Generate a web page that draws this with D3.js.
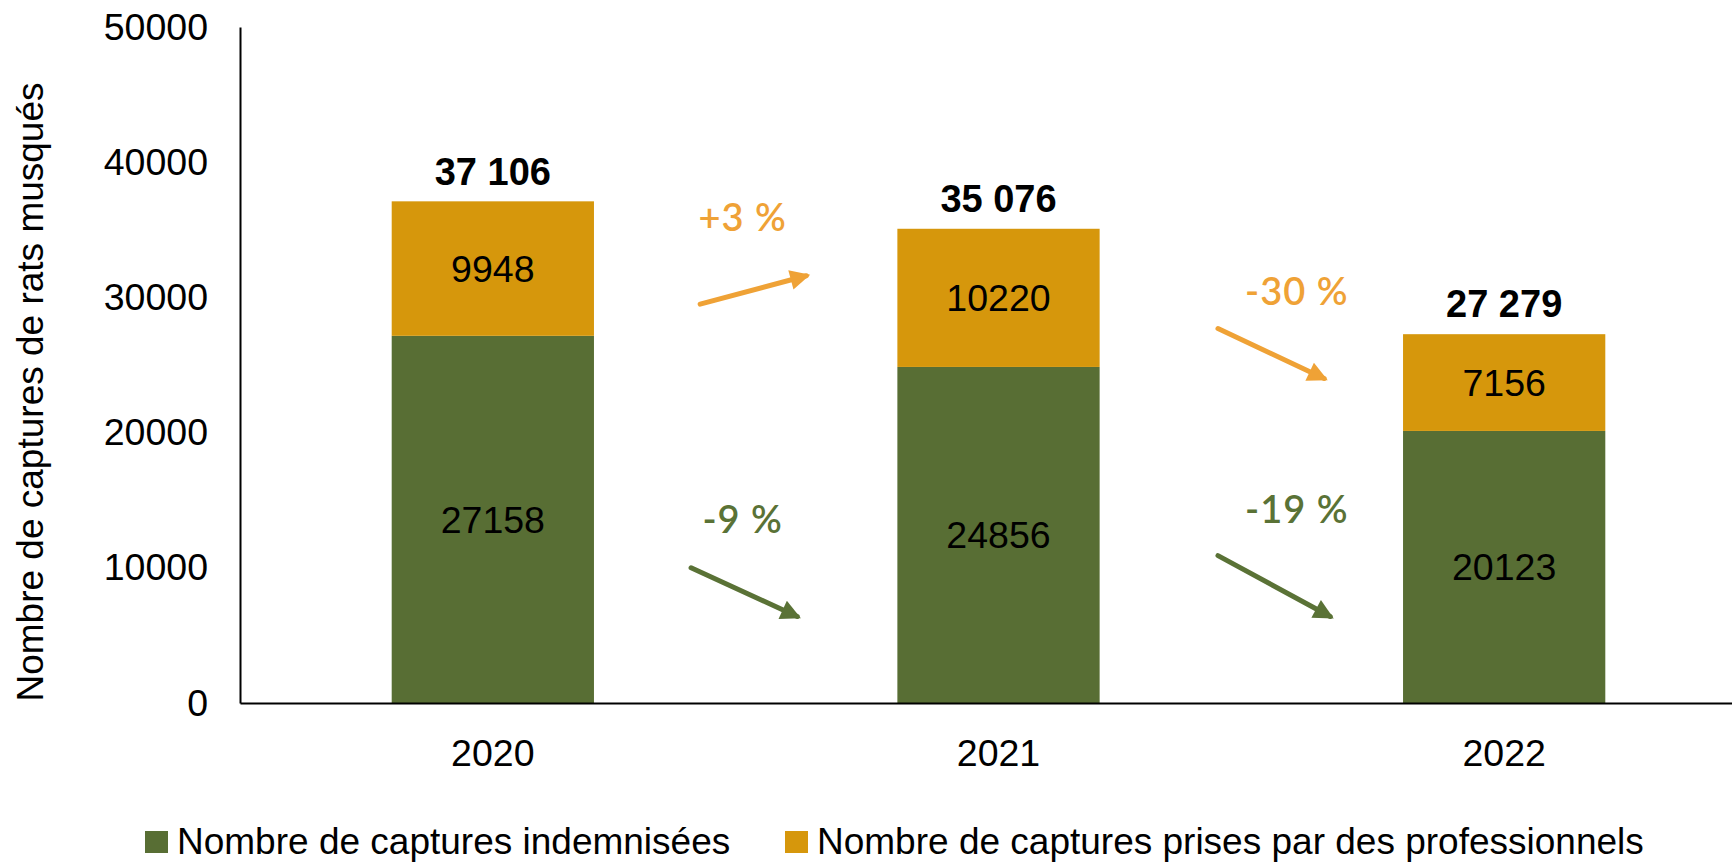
<!DOCTYPE html>
<html>
<head>
<meta charset="utf-8">
<script src="https://cdn.jsdelivr.net/npm/d3@7"></script>
<style>
  html, body { margin: 0; padding: 0; background: #fff; overflow: hidden; }
  svg { display: block; }
  text { font-family: "Liberation Sans", Arial, sans-serif; }
</style>
</head>
<body>
<svg id="chart" width="1732" height="863"></svg>
<script>
// Captures de rats musqués par année
const years = ["2020", "2021", "2022"];
const indemnisees = [27158, 24856, 20123];
const professionnels = [9948, 10220, 7156];
const totalLabels = ["37 106", "35 076", "27 279"];
const yTicks = [0, 10000, 20000, 30000, 40000, 50000];
const seriesNames = ["Nombre de captures indemnisées", "Nombre de captures prises par des professionnels"];

// Évolution entre deux années : libellé, niveau de départ / d'arrivée de la flèche et du texte (en nombre de captures)
const changeLabels = ["+3 %", "-9 %", "-30 %", "-19 %"];
const changeSeries = [1, 0, 1, 0];
const changeGap = [0, 0, 1, 1];
const arrowFrom = [29500, 10000, 27700, 10900];
const arrowTo = [31600, 6400, 24000, 6400];
const changeTextAt = [35900, 13550, 30400, 14300];

const colors = ["#586E34", "#D6970C"];
const arrowColors = ["#5A7236", "#EFA236"];

const svg = d3.select("#chart");

const x = d3.scaleBand().domain(years).range([240, 1757]).paddingInner(0.6).paddingOuter(0.3);
const y = d3.scaleLinear().domain([0, 50000]).range([703, 27]);

const stacked = years.map((yr, i) => ({
  year: yr,
  segs: [
    { s: 0, y0: 0, y1: indemnisees[i], v: indemnisees[i] },
    { s: 1, y0: indemnisees[i], y1: indemnisees[i] + professionnels[i], v: professionnels[i] }
  ],
  total: indemnisees[i] + professionnels[i],
  label: totalLabels[i]
}));

// Barres empilées
const g = svg.append("g");
const groups = g.selectAll("g.bar").data(stacked).join("g").attr("class", "bar");
groups.selectAll("rect").data(d => d.segs.map(s => ({ ...s, year: d.year }))).join("rect")
  .attr("x", d => x(d.year))
  .attr("width", x.bandwidth())
  .attr("y", d => y(d.y1))
  .attr("height", d => y(d.y0) - y(d.y1))
  .attr("fill", d => colors[d.s]);

// Valeurs dans les segments
groups.selectAll("text.seg").data(d => d.segs.map(s => ({ ...s, year: d.year }))).join("text")
  .attr("class", "seg")
  .attr("x", d => x(d.year) + x.bandwidth() / 2)
  .attr("y", d => y((d.y0 + d.y1) / 2))
  .attr("dy", "0.35em")
  .attr("text-anchor", "middle")
  .attr("font-size", 37.5)
  .attr("fill", "#000")
  .text(d => d.v);

// Totaux au-dessus des barres
groups.append("text")
  .attr("x", d => x(d.year) + x.bandwidth() / 2)
  .attr("y", d => y(d.total) - 30)
  .attr("dy", "0.35em")
  .attr("text-anchor", "middle")
  .attr("font-size", 38)
  .attr("font-weight", "bold")
  .attr("fill", "#000")
  .text(d => d.label);

// Axes
const yAxis = d3.axisLeft(y).tickValues(yTicks).tickSize(0).tickPadding(32).tickFormat(d3.format("d"));
const ya = svg.append("g").attr("transform", "translate(240,0)").call(yAxis);
ya.select(".domain").attr("stroke", "#000").attr("stroke-width", 2);
ya.selectAll("text").attr("font-size", 37.5).attr("fill", "#000")
  .attr("font-family", "'Liberation Sans', Arial, sans-serif");

const xAxis = d3.axisBottom(x).tickSize(0).tickPadding(36);
const xa = svg.append("g").attr("transform", "translate(0,703)").call(xAxis);
xa.select(".domain").attr("stroke", "#000").attr("stroke-width", 2);
xa.selectAll("text").attr("font-size", 37.5).attr("fill", "#000")
  .attr("font-family", "'Liberation Sans', Arial, sans-serif");

// Titre de l'axe vertical
svg.append("text")
  .attr("transform", "translate(30,392) rotate(-90)")
  .attr("text-anchor", "middle")
  .attr("dy", "0.35em")
  .attr("font-size", 37)
  .attr("fill", "#000")
  .text("Nombre de captures de rats musqués");

// Flèches d'évolution
const defs = svg.append("defs");
arrowColors.forEach((c, i) => {
  defs.append("marker")
    .attr("id", "head" + i)
    .attr("viewBox", "0 0 10 10")
    .attr("refX", 8).attr("refY", 5)
    .attr("markerWidth", 4.6).attr("markerHeight", 4)
    .attr("markerUnits", "strokeWidth")
    .attr("orient", "auto")
    .append("path").attr("d", "M0,0 L10,5 L0,10 Z").attr("fill", c);
});

const changes = changeLabels.map((lab, i) => {
  const left = years[changeGap[i]], right = years[changeGap[i] + 1];
  const gx0 = x(left) + x.bandwidth();
  const gx1 = x(right);
  const w = gx1 - gx0;
  const f0 = changeGap[i] === 0 ? (changeSeries[i] === 1 ? 0.35 : 0.32) : 0.39;
  const f1 = changeGap[i] === 0 ? (changeSeries[i] === 1 ? 0.70 : 0.67) : (changeSeries[i] === 1 ? 0.74 : 0.76);
  return {
    label: lab, s: changeSeries[i],
    x0: gx0 + w * f0, x1: gx0 + w * f1,
    y0: y(arrowFrom[i]), y1: y(arrowTo[i]),
    tx: gx0 + w * (changeGap[i] === 0 ? 0.49 : 0.65), ty: y(changeTextAt[i])
  };
});

svg.selectAll("line.chg").data(changes).join("line")
  .attr("class", "chg")
  .attr("x1", d => d.x0).attr("y1", d => d.y0)
  .attr("x2", d => d.x1).attr("y2", d => d.y1)
  .attr("stroke", d => arrowColors[d.s])
  .attr("stroke-width", 5)
  .attr("stroke-linecap", "round")
  .attr("marker-end", d => `url(#head${d.s})`);

svg.selectAll("text.chg").data(changes).join("text")
  .attr("class", "chg")
  .attr("x", d => d.tx).attr("y", d => d.ty)
  .attr("dy", "0.35em")
  .attr("text-anchor", "middle")
  .attr("font-size", 38)
  .attr("font-weight", 600)
  .attr("letter-spacing", 1)
  .style("font-family", "Lato, 'Noto Sans', sans-serif")
  .attr("fill", d => arrowColors[d.s])
  .text(d => d.label);

// Légende
const legendX = [145, 785];
const lg = svg.selectAll("g.legend").data(seriesNames).join("g")
  .attr("class", "legend")
  .attr("transform", (d, i) => `translate(${legendX[i]},831)`);
lg.append("rect").attr("width", 23).attr("height", 22).attr("fill", (d, i) => colors[i]);
lg.append("text")
  .attr("x", 32).attr("y", 10).attr("dy", "0.35em")
  .attr("font-size", 37)
  .attr("fill", "#000")
  .text(d => d);
</script>
</body>
</html>
